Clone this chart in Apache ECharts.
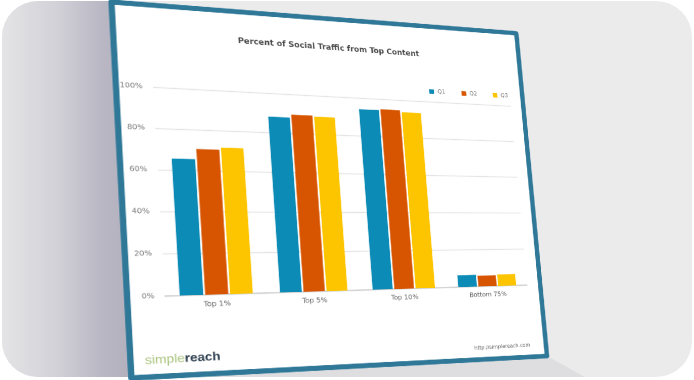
<!DOCTYPE html>
<html>
<head>
<meta charset="utf-8">
<script src="https://cdn.jsdelivr.net/npm/echarts@6/dist/echarts.min.js"></script>
<style>
html,body{margin:0;padding:0;width:694px;height:380px;overflow:hidden;background:#ffffff;}
#bg{position:absolute;left:2px;top:1px;width:690px;height:376px;border-radius:36px;background:#ebebeb;overflow:hidden;}
#shadow{position:absolute;left:0;top:0;width:150px;height:380px;background:linear-gradient(to right,#e4e4e6 0px,#d2d1d8 55px,#b9b7c3 100px,#b3b1bd 125px);clip-path:polygon(0 0,112px 0,131px 380px,0 380px);}
#bshadow{position:absolute;left:0;top:0;width:690px;height:380px;background:#dedee0;clip-path:polygon(128px 377px,545px 355px,590px 380px,128px 380px);}
#chart{position:absolute;left:0;top:0;width:700px;height:560px;transform-origin:0 0;}
</style>
</head>
<body>
<div id="bg"><div id="shadow"></div><div id="bshadow"></div></div>
<div id="chart"></div>
<script>
// ---- data ----
const categories = ['Top 1%', 'Top 5%', 'Top 10%', 'Bottom 75%'];
const seriesNames = ['Q1', 'Q2', 'Q3'];
const q1Values = [65.5, 88, 94, 6.3];
const q2Values = [70.5, 89.5, 94.5, 5.8];
const q3Values = [71.5, 89, 93.5, 6.2];
const yTickValues = [0, 20, 40, 60, 80, 100];
const titleText = 'Percent of Social Traffic from Top Content';
const logoParts = ['simple', 'reach'];
const footerUrl = 'http://simplereach.com';

// ---- geometry (flat chart -> tilted board in the picture) ----
const FW = 700, FH = 560;
const PL = 120, PT = 130, PW = 480, PH = 280;
const flatPlot = [[PL, PT], [PL + PW, PT], [PL + PW, PT + PH], [PL, PT + PH]];
const imgPlot = [[153, 87], [511, 106], [527, 285], [165, 296]];

function solve(A, b) {
  const n = b.length;
  for (let i = 0; i < n; i++) {
    let p = i;
    for (let r = i + 1; r < n; r++) if (Math.abs(A[r][i]) > Math.abs(A[p][i])) p = r;
    [A[i], A[p]] = [A[p], A[i]]; [b[i], b[p]] = [b[p], b[i]];
    for (let r = i + 1; r < n; r++) {
      const f = A[r][i] / A[i][i];
      for (let c = i; c < n; c++) A[r][c] -= f * A[i][c];
      b[r] -= f * b[i];
    }
  }
  const x = new Array(n);
  for (let i = n - 1; i >= 0; i--) {
    let s = b[i];
    for (let c = i + 1; c < n; c++) s -= A[i][c] * x[c];
    x[i] = s / A[i][i];
  }
  return x;
}
function homography(src, dst) {
  const A = [], b = [];
  for (let i = 0; i < 4; i++) {
    const [x, y] = src[i], [u, v] = dst[i];
    A.push([x, y, 1, 0, 0, 0, -u * x, -u * y]); b.push(u);
    A.push([0, 0, 0, x, y, 1, -v * x, -v * y]); b.push(v);
  }
  const h = solve(A, b);
  return [[h[0], h[1], h[2]], [h[3], h[4], h[5]], [h[6], h[7], 1]];
}
function inv3(m) {
  const [a, b, c] = m[0], [d, e, f] = m[1], [g, hh, i] = m[2];
  const C11 = e * i - f * hh, C12 = -(d * i - f * g), C13 = d * hh - e * g;
  const det = a * C11 + b * C12 + c * C13;
  return [
    [C11 / det, -(b * i - c * hh) / det, (b * f - c * e) / det],
    [C12 / det, (a * i - c * g) / det, -(a * f - c * d) / det],
    [C13 / det, -(a * hh - b * g) / det, (a * e - b * d) / det]
  ];
}
function apply(m, p) {
  const x = m[0][0] * p[0] + m[0][1] * p[1] + m[0][2];
  const y = m[1][0] * p[0] + m[1][1] * p[1] + m[1][2];
  const w = m[2][0] * p[0] + m[2][1] * p[1] + m[2][2];
  return [x / w, y / w];
}
const H = homography(flatPlot, imgPlot);
const Hi = inv3(H);
const toFlat = p => apply(Hi, p);

const boardFlat = [[111.5, 2], [516.3, 33.3], [547, 356], [131.4, 378]].map(toFlat);
const titleFlat = toFlat([332, 48]);
const logoFlat = toFlat([145, 361]);
const urlFlat = toFlat([530, 345]);
const legendFlat = toFlat([511, 94]);

const el = document.getElementById('chart');
el.style.transform = 'matrix3d(' + [H[0][0], H[1][0], 0, H[2][0], H[0][1], H[1][1], 0, H[2][1], 0, 0, 1, 0, H[0][2], H[1][2], 0, 1].join(',') + ')';

const FONT = "'DejaVu Sans Condensed','Liberation Sans Narrow','Liberation Sans',sans-serif";
const colors = ['#0b8bb5', '#d75400', '#fdc400'];
const valueLists = [q1Values, q2Values, q3Values];

const chart = echarts.init(el, null, { renderer: 'canvas', devicePixelRatio: 2, width: FW, height: FH });
chart.setOption({
  backgroundColor: 'transparent',
  animation: false,
  color: colors,
  textStyle: { fontFamily: FONT },
  grid: { left: PL, top: PT, width: PW, height: PH, containLabel: false },
  legend: {
    data: seriesNames,
    right: FW - legendFlat[0],
    top: legendFlat[1] - 6,
    icon: 'rect',
    itemWidth: 7, itemHeight: 7, itemGap: 24,
    textStyle: { fontFamily: FONT, fontSize: 9, color: '#777' }
  },
  xAxis: {
    type: 'category',
    data: categories,
    axisTick: { show: false },
    axisLine: { lineStyle: { color: '#cdcdcd', width: 1.5 } },
    axisLabel: { color: '#666', fontSize: 10, margin: 8, fontFamily: FONT }
  },
  yAxis: {
    type: 'value',
    min: yTickValues[0],
    max: yTickValues[yTickValues.length - 1],
    interval: yTickValues[1] - yTickValues[0],
    axisLine: { show: false },
    axisTick: { show: false },
    splitLine: { lineStyle: { color: '#e4e4e4', width: 1.4 } },
    axisLabel: { formatter: '{value}%', color: '#777', fontSize: 10, margin: 12, fontFamily: FONT }
  },
  series: seriesNames.map((name, i) => ({
    name: name,
    type: 'bar',
    data: valueLists[i],
    barGap: '8%',
    barCategoryGap: '28%',
    itemStyle: { color: colors[i] }
  })),
  graphic: {
    elements: [
      {
        type: 'polygon', z: -100, silent: true,
        shape: { points: boardFlat },
        style: { fill: '#ffffff', stroke: '#2f7898', lineWidth: 7, lineJoin: 'round' }
      },
      {
        type: 'text', z: 10, x: titleFlat[0], y: titleFlat[1],
        style: { text: titleText, fill: '#4a4a4a', font: 'bold 11.5px ' + FONT, textAlign: 'center', textVerticalAlign: 'middle' }
      },
      {
        type: 'text', z: 10, x: logoFlat[0], y: logoFlat[1],
        style: {
          text: '{a|' + logoParts[0] + '}{b|' + logoParts[1] + '}',
          textAlign: 'left', textVerticalAlign: 'middle',
          rich: {
            a: { fill: '#a9c47e', fontSize: 15.5, fontFamily: "'Liberation Sans',sans-serif" },
            b: { fill: '#2e3f50', fontSize: 15.5, fontWeight: 'bold', fontFamily: "'Liberation Sans',sans-serif" }
          }
        }
      },
      {
        type: 'text', z: 10, x: urlFlat[0], y: urlFlat[1],
        style: { text: footerUrl, fill: '#666', font: '8px ' + FONT, textAlign: 'right', textVerticalAlign: 'middle' }
      }
    ]
  }
});
</script>
</body>
</html>
